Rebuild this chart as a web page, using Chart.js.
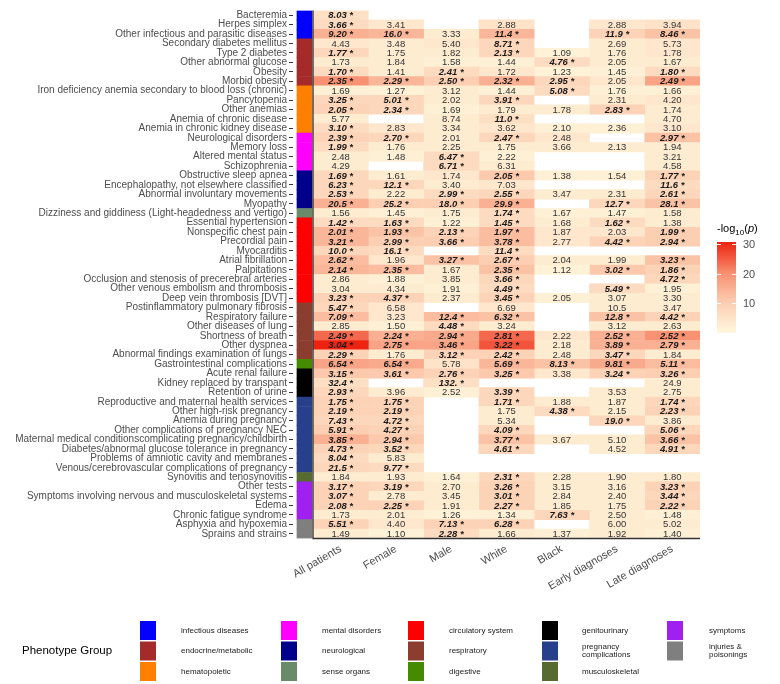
<!DOCTYPE html>
<html>
<head>
<meta charset="utf-8">
<script src="https://cdn.jsdelivr.net/npm/chart.js@4.4.1/dist/chart.umd.min.js"></script>
<style>
  html, body { margin: 0; padding: 0; background: #fff; }
  #wrap { width: 780px; height: 684px; }
</style>
</head>
<body>
<div id="wrap"><canvas id="heat" width="780" height="684"></canvas></div>
<script>
// rows, top to bottom
const rowNames = [
  "Bacteremia", "Herpes simplex", "Other infectious and parasitic diseases",
  "Secondary diabetes mellitus", "Type 2 diabetes", "Other abnormal glucose", "Obesity", "Morbid obesity",
  "Iron deficiency anemia secondary to blood loss (chronic)", "Pancytopenia", "Other anemias", "Anemia of chronic disease", "Anemia in chronic kidney disease",
  "Neurological disorders", "Memory loss", "Altered mental status", "Schizophrenia",
  "Obstructive sleep apnea", "Encephalopathy, not elsewhere classified", "Abnormal involuntary movements", "Myopathy",
  "Dizziness and giddiness (Light-headedness and vertigo)",
  "Essential hypertension", "Nonspecific chest pain", "Precordial pain", "Myocarditis", "Atrial fibrillation", "Palpitations",
  "Occlusion and stenosis of precerebral arteries", "Other venous embolism and thrombosis", "Deep vein thrombosis [DVT]",
  "Postinflammatory pulmonary fibrosis", "Respiratory failure", "Other diseases of lung", "Shortness of breath", "Other dyspnea",
  "Abnormal findings examination of lungs",
  "Gastrointestinal complications",
  "Acute renal failure", "Kidney replaced by transpant", "Retention of urine",
  "Reproductive and maternal health services", "Other high-risk pregnancy", "Anemia during pregnancy",
  "Other complications of pregnancy NEC", "Maternal medical conditionscomplicating pregnancy/childbirth",
  "Diabetes/abnormal glucose tolerance in pregnancy", "Problems of amniotic cavity and membranes",
  "Venous/cerebrovascular complications of pregnancy",
  "Synovitis and tenosynovitis",
  "Other tests", "Symptoms involving nervous and musculoskeletal systems", "Edema", "Chronic fatigue syndrome",
  "Asphyxia and hypoxemia", "Sprains and strains"
];

const groupNames = [
  "infectious diseases", "endocrine/metabolic", "hematopoietic",
  "mental disorders", "neurological", "sense organs",
  "circulatory system", "respiratory", "digestive",
  "genitourinary", "pregnancy\ncomplications", "musculoskeletal",
  "symptoms", "injuries &\npoisonings"
];
const groupColors = [
  "#0000FF", "#A52A2A", "#FF7F00",
  "#FF00FF", "#00008B", "#698B69",
  "#FF0000", "#8B3E2F", "#458B00",
  "#000000", "#27408B", "#556B2F",
  "#A020F0", "#7F7F7F"
];
const rowGroup = [
  0, 0, 0,
  1, 1, 1, 1, 1,
  2, 2, 2, 2, 2,
  3, 3, 3, 3,
  4, 4, 4, 4,
  5,
  6, 6, 6, 6, 6, 6, 6, 6, 6,
  7, 7, 7, 7, 7, 7,
  8,
  9, 9, 9,
  10, 10, 10, 10, 10, 10, 10, 10,
  11,
  12, 12, 12, 12,
  13, 13
];

const columns = ["All patients", "Female", "Male", "White", "Black", "Early diagnoses", "Late diagnoses"];

// cell labels (* = significant) and -log10(p) used for the fill
const labAll = [
  "8.03 *", "3.66 *", "9.20 *",
  "4.43", "1.77 *", "1.73", "1.70 *", "2.35 *",
  "1.69", "3.25 *", "2.05 *", "5.77", "3.10 *",
  "2.39 *", "1.99 *", "2.48", "4.29",
  "1.69 *", "6.23 *", "2.53 *", "20.5 *",
  "1.56",
  "1.42 *", "2.01 *", "3.21 *", "10.0 *", "2.62 *", "2.14 *", "2.86", "3.04", "3.23 *",
  "5.47 *", "7.09 *", "2.85", "2.49 *", "3.04 *", "2.29 *",
  "6.54 *",
  "3.15 *", "32.4 *", "2.93 *",
  "1.75 *", "2.19 *", "7.43 *", "5.91 *", "3.85 *", "4.73 *", "8.04 *", "21.5 *",
  "1.84",
  "3.17 *", "3.07 *", "2.08 *", "1.73",
  "5.51 *", "1.49"
];
const pAll = [
  6, 7, 15,
  4, 8, 3, 7, 20,
  2, 8, 9, 3, 7,
  9, 7, 3, 3,
  8, 8, 8, 15,
  3,
  7, 14, 14, 8, 13, 14, 3, 3, 9,
  8, 13, 3, 24, 31, 9,
  17,
  11, 6, 8,
  9, 9, 8, 10, 15, 9, 7, 8,
  3,
  9, 9, 9, 3,
  9, 3
];

const labFemale = [
  null, "3.41", "16.0 *",
  "3.48", "1.75", "1.84", "1.41", "2.29 *",
  "1.27", "5.01 *", "2.34 *", null, "2.83",
  "2.70 *", "1.76", "1.48", null,
  "1.61", "12.1 *", "2.22", "25.2 *",
  "1.45",
  "1.63 *", "1.93 *", "2.99 *", "16.1 *", "1.96", "2.35 *", "1.88", "4.34", "4.37 *",
  "6.58", "3.23", "1.50", "2.24 *", "2.75 *", "1.76",
  "6.54 *",
  "3.61 *", null, "3.96",
  "1.75 *", "2.19 *", "4.72 *", "4.27 *", "2.94 *", "3.52 *", "5.83", "9.77 *",
  "1.93",
  "3.19 *", "2.78", "2.25 *", "2.01",
  "4.40", "1.10"
];
const pFemale = [
  null, 4, 14,
  3, 3, 3, 3, 14,
  1.5, 8, 8, null, 4,
  8, 3, 2, null,
  3, 8, 3, 10,
  2,
  7, 12, 10, 7, 4, 13, 2, 3, 9,
  4, 4, 2, 15, 17, 3,
  16,
  11, null, 3,
  9, 9, 8, 9, 11, 8, 3, 7,
  3,
  8, 3, 9, 3,
  4, 1.5
];

const labMale = [
  null, null, "3.33",
  "5.40", "1.82", "1.58", "2.41 *", "2.50 *",
  "3.12", "2.02", "1.69", "8.74", "3.34",
  "2.01", "2.25", "6.47 *", "6.71 *",
  "1.74", "3.40", "2.99 *", "18.0 *",
  "1.75",
  "1.22", "2.13 *", "3.66 *", null, "3.27 *", "1.67", "3.85", "1.91", "2.37",
  null, "12.4 *", "4.48 *", "2.94 *", "3.46 *", "3.12 *",
  "5.78",
  "2.76 *", "132. *", "2.52",
  null, null, null, null, null, null, null, null,
  "1.64",
  "2.70", "3.45", "1.91", "1.26",
  "7.13 *", "2.28 *"
];
const pMale = [
  null, null, 3,
  4, 3, 2, 7, 10,
  3, 3, 2, 3, 3,
  3, 3, 7, 7,
  4, 3, 7, 10,
  3,
  2, 9, 10, null, 12, 3, 3, 2, 3,
  null, 13, 7, 16, 17, 9,
  5,
  9, 6, 2,
  null, null, null, null, null, null, null, null,
  2,
  3, 3, 3, 1.5,
  9, 7
];

const labWhite = [
  null, "2.88", "11.4 *",
  "8.71 *", "2.13 *", "1.44", "1.72", "2.32 *",
  "1.44", "3.91 *", "1.79", "11.0 *", "3.62",
  "2.47 *", "1.75", "2.22", "6.31",
  "2.05 *", "7.03", "2.55 *", "29.9 *",
  "1.74 *",
  "1.45 *", "1.97 *", "3.78 *", "11.4 *", "2.67 *", "2.35 *", "3.66 *", "4.49 *", "3.45 *",
  "6.69", "6.32 *", "3.24", "2.81 *", "3.22 *", "2.42 *",
  "5.69 *",
  "3.25 *", null, "3.39 *",
  "1.71 *", "1.75", "5.34", "4.09 *", "3.77 *", "4.61 *", null, null,
  "2.31 *",
  "3.26 *", "3.01 *", "2.27 *", "1.34",
  "6.28 *", "1.66"
];
const pWhite = [
  null, 5, 14,
  8, 8, 2, 4, 15,
  2, 8, 3, 6, 4,
  8, 3, 2, 3,
  11, 4, 8, 15,
  7,
  7, 13, 13, 7, 10, 12, 8, 7, 9,
  4, 12, 3, 24, 26, 9,
  14,
  11, null, 8,
  8, 3, 3, 8, 12, 8, null, null,
  8,
  9, 9, 9, 2,
  9, 3
];

const labBlack = [
  null, null, null,
  null, "1.09", "4.76 *", "1.23", "2.95 *",
  "5.08 *", null, "1.78", null, "2.10",
  "2.48", "3.66", null, null,
  "1.38", null, "3.47", null,
  "1.67",
  "1.68", "1.87", "2.77", null, "2.04", "1.12", null, null, "2.05",
  null, null, null, "2.22", "2.18", "2.48",
  "8.13 *",
  "3.38", null, null,
  "1.88", "4.38 *", null, null, "3.67", null, null, null,
  "2.28",
  "3.15", "2.84", "1.85", "7.63 *",
  null, "1.37"
];
const pBlack = [
  null, null, null,
  null, 1.5, 7, 1.5, 8,
  7, null, 3, null, 2,
  4, 3, null, null,
  2, null, 3, null,
  2,
  3, 4, 4, null, 3, 1.5, null, null, 2,
  null, null, null, 4, 3, 3,
  12,
  4, null, null,
  3, 7, null, null, 3, null, null, null,
  3,
  3, 3, 3, 8,
  null, 2
];

const labEarly = [
  null, "2.88", "11.9 *",
  "2.69", "1.76", "2.05", "1.45", "2.05",
  "1.76", "2.31", "2.83 *", null, "2.36",
  null, "2.13", null, null,
  "1.54", null, "2.31", "12.7 *",
  "1.47",
  "1.62 *", "2.03", "4.42 *", null, "1.99", "3.02 *", null, "5.49 *", "3.07",
  "10.5", "12.8 *", "3.12", "2.52 *", "3.89 *", "3.47 *",
  "9.81 *",
  "3.24 *", null, "3.53",
  "1.87", "2.15", "19.0 *", null, "5.10", "4.52", null, null,
  "1.90",
  "3.16", "2.40", "1.75", "2.50",
  "6.00", "1.92"
];
const pEarly = [
  null, 4, 9,
  3, 3, 3, 2, 4,
  2, 3, 9, null, 2,
  null, 3, null, null,
  2, null, 3, 8,
  2,
  7, 4, 9, null, 3, 11, null, 7, 3,
  3, 12, 3, 15, 15, 8,
  16,
  9, null, 3,
  3, 3, 8, null, 3, 3, null, null,
  3,
  3, 3, 3, 3,
  3, 3
];

const labLate = [
  null, "3.94", "8.46 *",
  "5.73", "1.78", "1.67", "1.80 *", "2.49 *",
  "1.66", "4.20", "1.74", "4.70", "3.10",
  "2.97 *", "1.94", "3.21", "4.58",
  "1.77 *", "11.6 *", "2.61 *", "28.1 *",
  "1.58",
  "1.38", "1.99 *", "2.94 *", null, "3.23 *", "1.86 *", "4.72 *", "1.95", "3.30",
  "3.47", "4.42 *", "2.63", "2.52 *", "2.79 *", "1.84",
  "5.11 *",
  "3.26 *", "24.9", "2.75",
  "1.74 *", "2.23 *", "3.86", "5.06 *", "3.66 *", "4.91 *", null, null,
  "1.80",
  "3.23 *", "3.44 *", "2.22 *", "1.48",
  "5.02", "1.40"
];
const pLate = [
  null, 5, 12,
  4, 4, 3, 7, 17,
  2, 4, 3, 3, 4,
  12, 3, 3, 3,
  9, 7, 8, 12,
  3,
  3, 10, 10, null, 12, 9, 8, 2, 3,
  3, 9, 3, 20, 15, 3,
  13,
  10, 3, 3,
  8, 9, 3, 8, 12, 8, null, null,
  3,
  9, 8, 9, 2,
  3, 2
];

const colLabels = [labAll, labFemale, labMale, labWhite, labBlack, labEarly, labLate];
const colP = [pAll, pFemale, pMale, pWhite, pBlack, pEarly, pLate];

const scaleMin = 0;
const scaleMax = 30.7;
const scaleTicks = [10, 20, 30];

// cream -> red, roughly like the reference gradient
const stops = [
  [0, [255, 248, 222]],
  [0.33, [252, 206, 178]],
  [0.65, [248, 146, 115]],
  [1, [238, 34, 16]]
];
function heatColor(v) {
  let t = (v - scaleMin) / (scaleMax - scaleMin);
  t = Math.max(0, Math.min(1, t));
  for (let i = 1; i < stops.length; i++) {
    if (t <= stops[i][0]) {
      const [t0, c0] = stops[i - 1];
      const [t1, c1] = stops[i];
      const f = (t - t0) / (t1 - t0);
      const c = c0.map((a, k) => Math.round(a + (c1[k] - a) * f));
      return "rgb(" + c.join(",") + ")";
    }
  }
  return "rgb(238,34,16)";
}

const FONT = '"Liberation Sans", Arial, Helvetica, sans-serif';

const datasets = columns.map((name, c) => ({
  label: name,
  data: colP[c].map(v => v == null ? null : [c - 0.5, c + 0.5]),
  backgroundColor: colP[c].map(v => v == null ? "rgba(0,0,0,0)" : heatColor(v)),
  borderWidth: 0,
  grouped: false,
  barPercentage: 1,
  categoryPercentage: 1
}));

// phenotype strip left of the cells
datasets.push({
  label: "group",
  data: rowGroup.map(() => [-0.79, -0.518]),
  backgroundColor: rowGroup.map(g => groupColors[g]),
  borderWidth: 0,
  grouped: false,
  barPercentage: 1,
  categoryPercentage: 1
});

const cellText = {
  id: "cellText",
  afterDatasetsDraw(chart) {
    const ctx = chart.ctx;
    const xs = chart.scales.x, ys = chart.scales.y;
    ctx.save();
    ctx.textAlign = "center";
    ctx.textBaseline = "middle";
    colLabels.forEach((labels, c) => {
      labels.forEach((t, r) => {
        if (!t) return;
        const sig = t.indexOf("*") >= 0;
        ctx.font = (sig ? "italic bold " : "") + "9.5px " + FONT;
        ctx.fillStyle = sig ? "#1a1a1a" : "#333333";
        ctx.fillText(t, xs.getPixelForValue(c), ys.getPixelForValue(r) + 0.5);
      });
    });
    ctx.restore();
  }
};

const axisLines = {
  id: "axisLines",
  afterDatasetsDraw(chart) {
    const ctx = chart.ctx;
    const a = chart.chartArea;
    const x0 = chart.scales.x.getPixelForValue(-0.5);
    ctx.save();
    ctx.strokeStyle = "#333333";
    ctx.lineWidth = 1.3;
    ctx.beginPath();
    ctx.moveTo(x0, a.top);
    ctx.lineTo(x0, a.bottom);
    ctx.lineTo(a.right, a.bottom);
    ctx.stroke();
    ctx.restore();
  }
};

const colorBar = {
  id: "colorBar",
  afterDraw(chart) {
    const ctx = chart.ctx;
    const left = 717, w = 19, top = 242, bottom = 333;
    const yOf = v => bottom - (v - scaleMin) / (scaleMax - scaleMin) * (bottom - top);
    ctx.save();
    const g = ctx.createLinearGradient(0, bottom, 0, top);
    for (let i = 0; i <= 20; i++) {
      g.addColorStop(i / 20, heatColor(scaleMin + (scaleMax - scaleMin) * i / 20));
    }
    ctx.fillStyle = g;
    ctx.fillRect(left, top, w, bottom - top);
    ctx.strokeStyle = "rgba(255,255,255,0.9)";
    ctx.lineWidth = 1;
    ctx.fillStyle = "#4D4D4D";
    ctx.font = "11px " + FONT;
    ctx.textAlign = "left";
    ctx.textBaseline = "middle";
    scaleTicks.forEach(v => {
      const y = Math.round(yOf(v)) + 0.5;
      ctx.beginPath();
      ctx.moveTo(left, y); ctx.lineTo(left + 4, y);
      ctx.moveTo(left + w - 4, y); ctx.lineTo(left + w, y);
      ctx.stroke();
      ctx.fillText(String(v), left + w + 7, y);
    });
    // title -log10(p)
    ctx.fillStyle = "#000";
    ctx.textBaseline = "alphabetic";
    let x = left;
    const by = 232;
    ctx.font = "11px " + FONT;
    ctx.fillText("-log", x, by); x += ctx.measureText("-log").width;
    ctx.font = "8px " + FONT;
    ctx.fillText("10", x, by + 3); x += ctx.measureText("10").width;
    ctx.font = "11px " + FONT;
    ctx.fillText("(", x, by); x += ctx.measureText("(").width;
    ctx.font = "italic 11px " + FONT;
    ctx.fillText("p", x, by); x += ctx.measureText("p").width;
    ctx.font = "11px " + FONT;
    ctx.fillText(")", x, by);
    ctx.restore();
  }
};

const groupLegend = {
  id: "groupLegend",
  afterDraw(chart) {
    const ctx = chart.ctx;
    const boxX = [140, 281, 408, 542, 667];
    const textX = [181, 322, 449, 582, 709];
    const rowTop = [621, 641.5, 662];
    ctx.save();
    ctx.fillStyle = "#000";
    ctx.font = "11.5px " + FONT;
    ctx.textBaseline = "middle";
    ctx.textAlign = "left";
    ctx.fillText("Phenotype Group", 22, 651);
    ctx.font = "8px " + FONT;
    groupNames.forEach((name, k) => {
      const col = Math.floor(k / 3), row = k % 3;
      ctx.fillStyle = groupColors[k];
      ctx.fillRect(boxX[col], rowTop[row], 16, 19);
      ctx.fillStyle = "#1a1a1a";
      const lines = name.split("\n");
      const cy = rowTop[row] + 9.5;
      lines.forEach((ln, i) => {
        ctx.fillText(ln, textX[col], cy + (i - (lines.length - 1) / 2) * 8.5);
      });
    });
    ctx.restore();
  }
};

new Chart(document.getElementById("heat"), {
  type: "bar",
  data: { labels: rowNames, datasets: datasets },
  options: {
    indexAxis: "y",
    responsive: false,
    animation: false,
    devicePixelRatio: 1,
    layout: { padding: { top: 10.5, right: 80, left: 0, bottom: 0 } },
    plugins: { legend: { display: false }, tooltip: { enabled: false } },
    scales: {
      y: {
        type: "category",
        offset: true,
        border: { display: false },
        grid: { drawOnChartArea: false, drawTicks: true, tickLength: 4, color: "#333333", offset: false },
        ticks: { autoSkip: false, padding: 2, color: "#4D4D4D", font: { size: 10, family: FONT } },
        afterFit: s => { s.width = 293; }
      },
      x: {
        type: "linear",
        min: -0.862,
        max: 6.5,
        border: { display: false },
        grid: { display: false, drawTicks: false },
        afterBuildTicks: s => { s.ticks = columns.map((_, i) => ({ value: i })); },
        ticks: {
          autoSkip: false,
          minRotation: 30,
          maxRotation: 30,
          padding: 4,
          color: "#4D4D4D",
          font: { size: 11, family: FONT },
          callback: v => columns[v]
        },
        afterFit: s => { s.height = 145.5; }
      }
    }
  },
  plugins: [cellText, axisLines, colorBar, groupLegend]
});
</script>
</body>
</html>
